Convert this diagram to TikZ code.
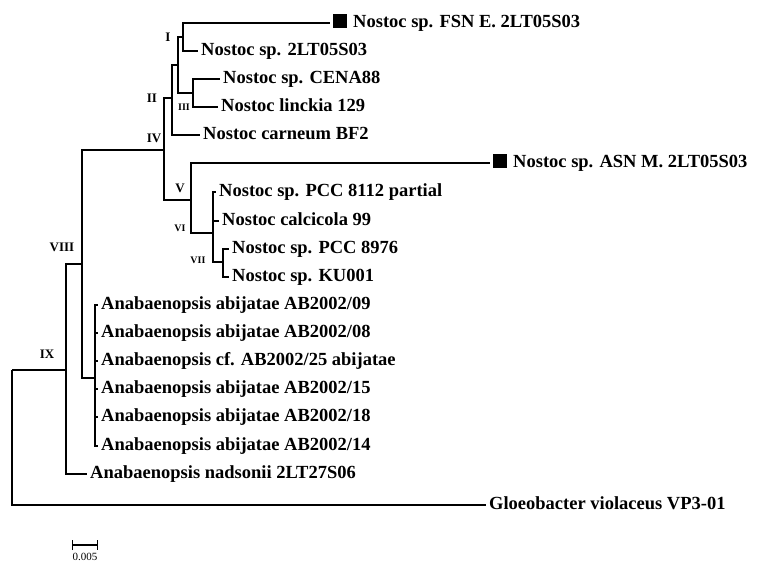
\documentclass[tikz,border=0pt]{standalone}
\usepackage{fontspec}
\setmainfont{Liberation Serif}
\usetikzlibrary{arrows.meta}

\newcommand{\tagbox}{\rule[-0.5pt]{14pt}{14pt}\hspace{6pt}}

\begin{document}
\begin{tikzpicture}[
    x=1pt, y=-1pt,
    branch/.style={line width=1.4pt},
    leaf/.style={anchor=west, inner sep=3pt, text height=13.5pt, text depth=4pt, font=\fontsize{18.5}{21}\selectfont\bfseries},
    clade/.style={inner sep=0pt, font=\fontsize{13}{13}\selectfont\bfseries},
    smallclade/.style={inner sep=0pt, font=\fontsize{10}{10}\selectfont\bfseries}
]
    \useasboundingbox (0,0) rectangle (758,564);

    \coordinate (root) at (12,370);
    \coordinate (nIX) at (66,370);
    \coordinate (nVIII) at (82,264);
    \coordinate (nAb) at (95,378);
    \coordinate (nIV) at (164,150);
    \coordinate (nII) at (172,98);
    \coordinate (nIa) at (178,65);
    \coordinate (nI) at (183,37);
    \coordinate (nIII) at (193,93);
    \coordinate (nV) at (191,200);
    \coordinate (nVI) at (213,233);
    \coordinate (nVII) at (223,262);

    \node[leaf] (fsn) at (330,23) {\tagbox Nostoc sp. FSN E. 2LT05S03};
    \node[leaf] (lt05) at (198,51) {Nostoc sp. 2LT05S03};
    \node[leaf] (cena) at (220,79) {Nostoc sp. CENA88};
    \node[leaf] (linck) at (218,107) {Nostoc linckia 129};
    \node[leaf] (carn) at (200,135) {Nostoc carneum BF2};
    \node[leaf] (asn) at (490,163) {\tagbox Nostoc sp. ASN M. 2LT05S03};
    \node[leaf] (pcc8112) at (216,192) {Nostoc sp. PCC 8112 partial};
    \node[leaf] (calci) at (219,221) {Nostoc calcicola 99};
    \node[leaf] (pcc8976) at (229,249) {Nostoc sp. PCC 8976};
    \node[leaf] (ku) at (229,277) {Nostoc sp. KU001};
    \node[leaf] (ab09) at (98,305) {Anabaenopsis abijatae AB2002/09};
    \node[leaf] (ab08) at (98,333) {Anabaenopsis abijatae AB2002/08};
    \node[leaf] (ab25) at (98,361) {Anabaenopsis cf. AB2002/25 abijatae};
    \node[leaf] (ab15) at (98,389) {Anabaenopsis abijatae AB2002/15};
    \node[leaf] (ab18) at (98,417) {Anabaenopsis abijatae AB2002/18};
    \node[leaf] (ab14) at (98,446) {Anabaenopsis abijatae AB2002/14};
    \node[leaf] (nads) at (87,474) {Anabaenopsis nadsonii 2LT27S06};
    \node[leaf] (gloeo) at (486,505) {Gloeobacter violaceus VP3-01};

    \draw[branch] (root) |- (nIX);
    \draw[branch] (root) |- (gloeo.west);
    \draw[branch] (nIX) |- (nVIII);
    \draw[branch] (nIX) |- (nads.west);
    \draw[branch] (nVIII) |- (nIV);
    \draw[branch] (nVIII) |- (nAb);
    \foreach \t in {ab09,ab08,ab25,ab15,ab18,ab14}
        \draw[branch] (nAb) |- (\t.west);
    \draw[branch] (nIV) |- (nII);
    \draw[branch] (nIV) |- (nV);
    \draw[branch] (nII) |- (nIa);
    \draw[branch] (nII) |- (carn.west);
    \draw[branch] (nIa) |- (nI);
    \draw[branch] (nIa) |- (nIII);
    \draw[branch] (nI) |- (fsn.west);
    \draw[branch] (nI) |- (lt05.west);
    \draw[branch] (nIII) |- (cena.west);
    \draw[branch] (nIII) |- (linck.west);
    \draw[branch] (nV) |- (asn.west);
    \draw[branch] (nV) |- (nVI);
    \draw[branch] (nVI) |- (pcc8112.west);
    \draw[branch] (nVI) |- (calci.west);
    \draw[branch] (nVI) |- (nVII);
    \draw[branch] (nVII) |- (pcc8976.west);
    \draw[branch] (nVII) |- (ku.west);

    \node[clade] (lI) at (168,37) {I};
    \node[clade] (lII) at (152,98) {II};
    \node[smallclade] (lIII) at (184,107) {III};
    \node[clade] (lIV) at (154,138) {IV};
    \node[clade] (lV) at (180,188) {V};
    \node[smallclade] (lVI) at (180,228) {VI};
    \node[smallclade] (lVII) at (198,260) {VII};
    \node[clade] (lVIII) at (62,247) {VIII};
    \node[clade] (lIX) at (47,354) {IX};

    \coordinate (sbL) at (72,545);
    \coordinate (sbR) at (98,545);
    \draw[branch, {Bar[width=10pt]}-{Bar[width=10pt]}] (sbL) -- (sbR);
    \node[inner sep=0pt, font=\fontsize{11}{11}\selectfont] (sbtext) at (85,557) {0.005};
\end{tikzpicture}
\end{document}
